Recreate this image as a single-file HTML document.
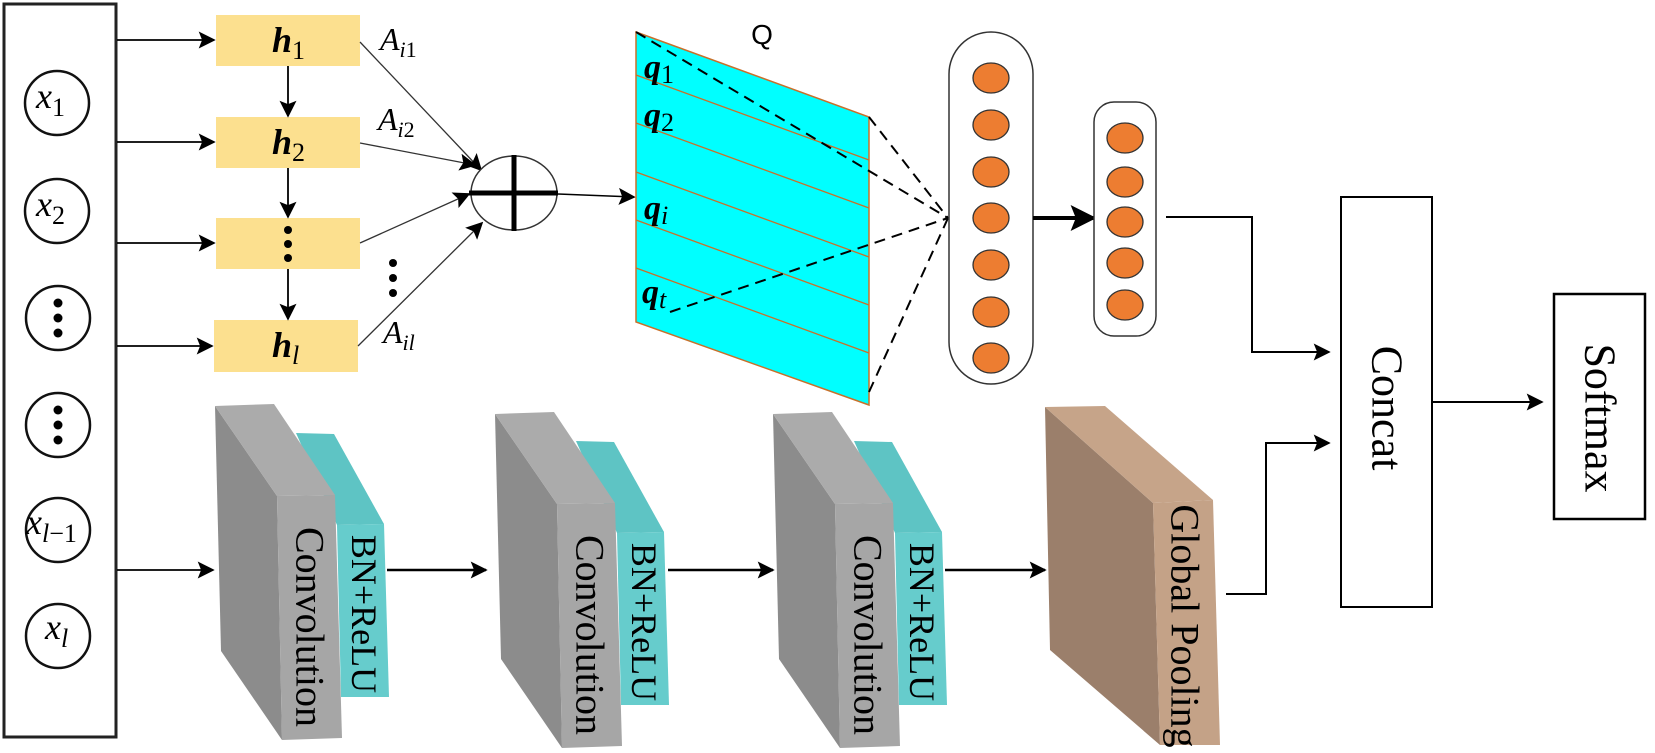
<!DOCTYPE html>
<html><head><meta charset="utf-8"><style>
html,body{margin:0;padding:0;background:#fff;}
svg{display:block;}
.m{font-family:"Liberation Serif",serif;font-style:italic;}
.b{font-weight:bold;}
.r{font-family:"Liberation Serif",serif;}
</style></head><body>
<svg width="1655" height="753" viewBox="0 0 1655 753" xmlns="http://www.w3.org/2000/svg">
<defs>
<marker id="a" viewBox="0 0 10 10" refX="9" refY="5" markerWidth="12" markerHeight="12" markerUnits="userSpaceOnUse" orient="auto"><path d="M0,0 L10,5 L0,10 L2,5 z" fill="#000"/></marker>
<marker id="a2" viewBox="0 0 10 10" refX="9" refY="5" markerWidth="17" markerHeight="17" markerUnits="userSpaceOnUse" orient="auto"><path d="M0,0 L10,5 L0,10 L2,5 z" fill="#000"/></marker>
<marker id="a3" viewBox="0 0 10 10" refX="9" refY="5" markerWidth="26" markerHeight="26" markerUnits="userSpaceOnUse" orient="auto"><path d="M0,0 L10,5 L0,10 L2,5 z" fill="#000"/></marker>
</defs>

<rect x="4" y="4" width="112" height="733" fill="#fff" stroke="#222" stroke-width="3"/>
<g fill="#fff" stroke="#111" stroke-width="2.5">
<circle cx="57" cy="103" r="32"/>
<circle cx="57" cy="211" r="32"/>
<circle cx="58" cy="318" r="32"/>
<circle cx="58" cy="425" r="32"/>
<circle cx="58" cy="530" r="32"/>
<circle cx="58" cy="636" r="32"/>
</g>
<g fill="#000">
<circle cx="58" cy="303" r="4.5"/><circle cx="58" cy="318" r="4.5"/><circle cx="58" cy="333" r="4.5"/>
<circle cx="58" cy="410" r="4.5"/><circle cx="58" cy="425" r="4.5"/><circle cx="58" cy="440" r="4.5"/>
</g>
<g class="m" font-size="36" fill="#000">
<text x="36" y="108">x<tspan font-style="normal" font-size="26" dy="8">1</tspan></text>
<text x="36" y="216">x<tspan font-style="normal" font-size="26" dy="8">2</tspan></text>
<text x="26" y="534">x<tspan font-size="26" dy="8">l</tspan><tspan font-style="normal" font-size="26">−1</tspan></text>
<text x="45" y="639">x<tspan font-size="26" dy="8">l</tspan></text>
</g>

<g stroke="#000" stroke-width="1.8" fill="none">
<line x1="117" y1="40" x2="214" y2="40" marker-end="url(#a2)"/>
<line x1="117" y1="142" x2="214" y2="142" marker-end="url(#a2)"/>
<line x1="117" y1="243" x2="214" y2="243" marker-end="url(#a2)"/>
<line x1="117" y1="346" x2="212" y2="346" marker-end="url(#a2)"/>
<line x1="117" y1="570" x2="213" y2="570" marker-end="url(#a2)"/>
</g>

<g fill="#fce08f">
<rect x="216" y="15" width="144" height="51"/>
<rect x="216" y="117" width="144" height="51"/>
<rect x="216" y="218" width="144" height="51"/>
<rect x="214" y="320" width="144" height="52"/>
</g>
<g stroke="#000" stroke-width="1.8">
<line x1="288" y1="66" x2="288" y2="116" marker-end="url(#a2)"/>
<line x1="288" y1="168" x2="288" y2="217" marker-end="url(#a2)"/>
<line x1="288" y1="269" x2="288" y2="319" marker-end="url(#a2)"/>
</g>
<g fill="#000">
<circle cx="288" cy="230" r="4"/><circle cx="288" cy="244" r="4"/><circle cx="288" cy="258" r="4"/>
<circle cx="393" cy="263" r="4"/><circle cx="393" cy="278" r="4"/><circle cx="393" cy="293" r="4"/>
</g>
<g class="m b" font-size="36" fill="#000">
<text x="272" y="52">h<tspan font-weight="normal" font-style="normal" font-size="26" dy="7">1</tspan></text>
<text x="272" y="154">h<tspan font-weight="normal" font-style="normal" font-size="26" dy="7">2</tspan></text>
<text x="272" y="357">h<tspan font-weight="normal" font-size="26" dy="7">l</tspan></text>
</g>
<g class="m" font-size="32" fill="#000">
<text x="380" y="50">A<tspan font-size="22" dy="7">i</tspan><tspan font-style="normal" font-size="22">1</tspan></text>
<text x="378" y="130">A<tspan font-size="22" dy="7">i</tspan><tspan font-style="normal" font-size="22">2</tspan></text>
<text x="383" y="343">A<tspan font-size="22" dy="7">il</tspan></text>
</g>

<g stroke="#333" stroke-width="1.3">
<line x1="360" y1="42" x2="481" y2="170" marker-end="url(#a2)"/>
<line x1="360" y1="143" x2="475" y2="165" marker-end="url(#a2)"/>
<line x1="360" y1="243" x2="469" y2="194" marker-end="url(#a2)"/>
<line x1="358" y1="346" x2="482" y2="223" marker-end="url(#a2)"/>
</g>
<ellipse cx="514" cy="193" rx="43" ry="37" fill="#fff" stroke="#333" stroke-width="1.5"/>
<line x1="469" y1="193" x2="558" y2="193" stroke="#000" stroke-width="5"/>
<line x1="514" y1="155" x2="514" y2="231" stroke="#000" stroke-width="5"/>
<line x1="558" y1="194" x2="634" y2="197" stroke="#000" stroke-width="1.5" marker-end="url(#a2)"/>

<text x="762" y="44" font-family="Liberation Sans,sans-serif" font-size="28" text-anchor="middle">Q</text>
<polygon points="636,32 869,117 869,405 636,322" fill="#00ffff" stroke="#c8702a" stroke-width="1.5"/>
<g stroke="#c8702a" stroke-width="1.3">
<line x1="636" y1="75" x2="869" y2="160"/>
<line x1="636" y1="123" x2="869" y2="208"/>
<line x1="636" y1="172" x2="869" y2="257"/>
<line x1="636" y1="220" x2="869" y2="305"/>
<line x1="636" y1="268" x2="869" y2="353"/>
</g>
<g class="m b" font-size="34" fill="#000">
<text x="644" y="78">q<tspan font-weight="normal" font-style="normal" font-size="26" dy="5">1</tspan></text>
<text x="644" y="126">q<tspan font-weight="normal" font-style="normal" font-size="26" dy="5">2</tspan></text>
<text x="644" y="219">q<tspan font-weight="normal" font-size="26" dy="5">i</tspan></text>
<text x="642" y="303">q<tspan font-weight="normal" font-size="26" dy="5">t</tspan></text>
</g>
<g stroke="#000" stroke-width="2" stroke-dasharray="11,7" fill="none">
<line x1="636" y1="32" x2="948" y2="218"/>
<line x1="869" y1="117" x2="948" y2="218"/>
<line x1="670" y1="312" x2="948" y2="218"/>
<line x1="869" y1="392" x2="948" y2="218"/>
</g>

<rect x="949" y="32" width="84" height="352" rx="42" fill="#fff" stroke="#333" stroke-width="1.5"/>
<g fill="#ed7d31" stroke="#333" stroke-width="1.3">
<ellipse cx="991" cy="78" rx="18" ry="15"/>
<ellipse cx="991" cy="125" rx="18" ry="15"/>
<ellipse cx="991" cy="172" rx="18" ry="15"/>
<ellipse cx="991" cy="218" rx="18" ry="15"/>
<ellipse cx="991" cy="265" rx="18" ry="15"/>
<ellipse cx="991" cy="312" rx="18" ry="15"/>
<ellipse cx="991" cy="358" rx="18" ry="15"/>
</g>
<line x1="1033" y1="218" x2="1094" y2="218" stroke="#000" stroke-width="4" marker-end="url(#a3)"/>
<rect x="1094" y="102" width="62" height="234" rx="20" fill="#fff" stroke="#333" stroke-width="1.5"/>
<g fill="#ed7d31" stroke="#333" stroke-width="1.3">
<ellipse cx="1125" cy="138" rx="18" ry="15"/>
<ellipse cx="1125" cy="182" rx="18" ry="15"/>
<ellipse cx="1125" cy="222" rx="18" ry="15"/>
<ellipse cx="1125" cy="263" rx="18" ry="15"/>
<ellipse cx="1125" cy="305" rx="18" ry="15"/>
</g>

<polyline points="1166,217 1252,217 1252,352 1329,352" fill="none" stroke="#000" stroke-width="2" marker-end="url(#a2)"/>
<polyline points="1226,594 1266,594 1266,443 1329,443" fill="none" stroke="#000" stroke-width="2" marker-end="url(#a2)"/>
<rect x="1341" y="197" width="91" height="410" fill="#fff" stroke="#000" stroke-width="2"/>
<text class="r" font-size="44" transform="translate(1387,408) rotate(90)" text-anchor="middle" dominant-baseline="central">Concat</text>
<line x1="1432" y1="402" x2="1542" y2="402" stroke="#000" stroke-width="2" marker-end="url(#a2)"/>
<rect x="1554" y="294" width="91" height="225" fill="#fff" stroke="#000" stroke-width="2.5"/>
<text class="r" font-size="44" transform="translate(1600,418) rotate(90)" text-anchor="middle" dominant-baseline="central">Softmax</text>

<g id="blk">
<polygon points="296,433 334,434 384,524 337,525" fill="#5ec4c4"/>
<polygon points="337,525 384,524 389,697 341,697" fill="#66cccc"/>
<polygon points="215,406 277,496 282,740 221,651" fill="#8c8c8c"/>
<polygon points="215,406 274,404 335,495 277,496" fill="#ababab"/>
<polygon points="277,496 335,495 342,738 282,740" fill="#a6a6a6"/>
<text class="r" font-size="40" transform="translate(310,627) rotate(90)" text-anchor="middle" dominant-baseline="central">Convolution</text>
<text class="r" font-size="36" transform="translate(364,614) rotate(90)" text-anchor="middle" dominant-baseline="central">BN+ReLU</text>
</g>
<use href="#blk" transform="translate(280,8)"/>
<use href="#blk" transform="translate(558,8)"/>
<g stroke="#000" stroke-width="2.5">
<line x1="387" y1="570" x2="486" y2="570" marker-end="url(#a2)"/>
<line x1="668" y1="570" x2="773" y2="570" marker-end="url(#a2)"/>
<line x1="945" y1="570" x2="1045" y2="570" marker-end="url(#a2)"/>
</g>

<polygon points="1045,407 1153,503 1160,745 1050,650" fill="#9b7f6b"/>
<polygon points="1045,407 1105,406 1213,500 1153,503" fill="#c6a489"/>
<polygon points="1153,503 1213,500 1220,745 1160,745" fill="#c4a287"/>
<text class="r" font-size="40" transform="translate(1185,626) rotate(90)" text-anchor="middle" dominant-baseline="central">Global Pooling</text>
</svg>
</body></html>
